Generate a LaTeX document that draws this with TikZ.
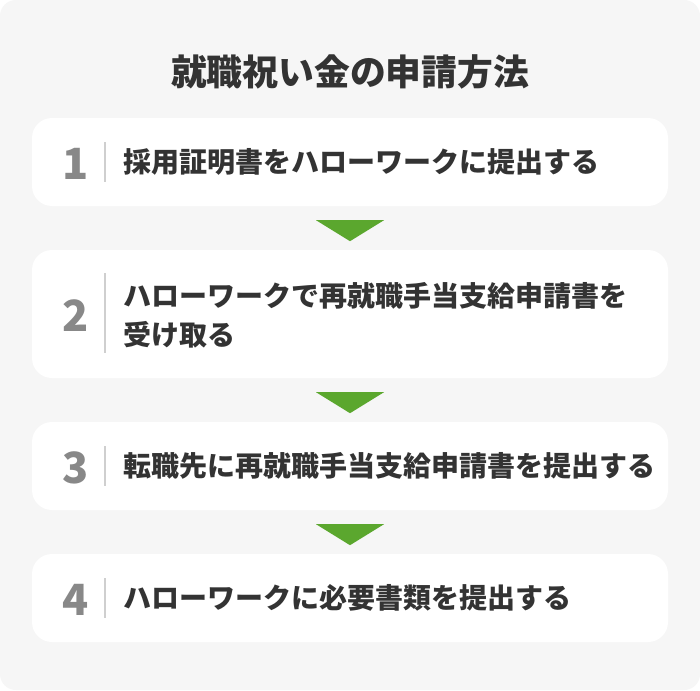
\documentclass[tikz,border=0pt]{standalone}
\usepackage{fontspec}
\newfontfamily\jp{Noto Sans CJK JP}
\usetikzlibrary{calc}
\definecolor{bggray}{HTML}{F6F6F6}
\definecolor{arrowgreen}{HTML}{5BA72E}
\definecolor{numgray}{HTML}{888888}
\definecolor{divgray}{HTML}{CFCFCF}
\definecolor{textdark}{HTML}{333333}
\tikzset{
  stepbox/.style={fill=white, rounded corners=20pt, minimum width=636pt, inner sep=0pt},
  numtext/.style={text=numgray, font=\jp\bfseries\fontsize{43}{43}\selectfont, inner sep=0pt},
  steptext/.style={text=textdark, font=\jp\bfseries\fontsize{28}{39}\selectfont, anchor=west, inner sep=0pt, align=left},
  divider/.style={draw=divgray, line width=1.2pt},
  downtri/.style={fill=arrowgreen},
}
\begin{document}
\begin{tikzpicture}[x=1pt,y=-1pt]
\useasboundingbox (0,0) rectangle (700,690);
\fill[white] (0,0) rectangle (700,690);
\fill[bggray, rounded corners=16pt] (0,0) rectangle (700,690);

\node[text=textdark, font=\jp\bfseries\fontsize{35.8}{36}\selectfont, inner sep=0pt] (title) at (350,72) {就職祝い金の申請方法};

\node[stepbox, minimum height=88pt] (b1) at (350,162) {};
\node[stepbox, minimum height=128pt] (b2) at (350,314) {};
\node[stepbox, minimum height=88pt] (b3) at (350,466) {};
\node[stepbox, minimum height=88pt] (b4) at (350,598) {};

\foreach \b in {b1,b2,b3}{
  \fill[downtri] ($(\b.south)+(-34,14)$) -- ($(\b.south)+(34,14)$) -- ($(\b.south)+(0,35)$) -- cycle;
}

\node[numtext] (n1) at (76,164) {1};
\node[numtext] (n2) at (76,316) {2};
\node[numtext] (n3) at (76,468) {3};
\node[numtext] (n4) at (76,600) {4};

\coordinate (d1a) at (105,142); \coordinate (d1b) at (105,182);
\coordinate (d2a) at (105,273); \coordinate (d2b) at (105,353);
\coordinate (d3a) at (105,446); \coordinate (d3b) at (105,486);
\coordinate (d4a) at (105,578); \coordinate (d4b) at (105,618);
\draw[divider] (d1a) -- (d1b);
\draw[divider] (d2a) -- (d2b);
\draw[divider] (d3a) -- (d3b);
\draw[divider] (d4a) -- (d4b);

\node[steptext] (t1) at (123,162) {採用証明書をハローワークに提出する};
\node[steptext] (t2) at (123,315) {ハローワークで再就職手当支給申請書を\\受け取る};
\node[steptext] (t3) at (123,466) {転職先に再就職手当支給申請書を提出する};
\node[steptext] (t4) at (123,598) {ハローワークに必要書類を提出する};
\end{tikzpicture}
\end{document}
